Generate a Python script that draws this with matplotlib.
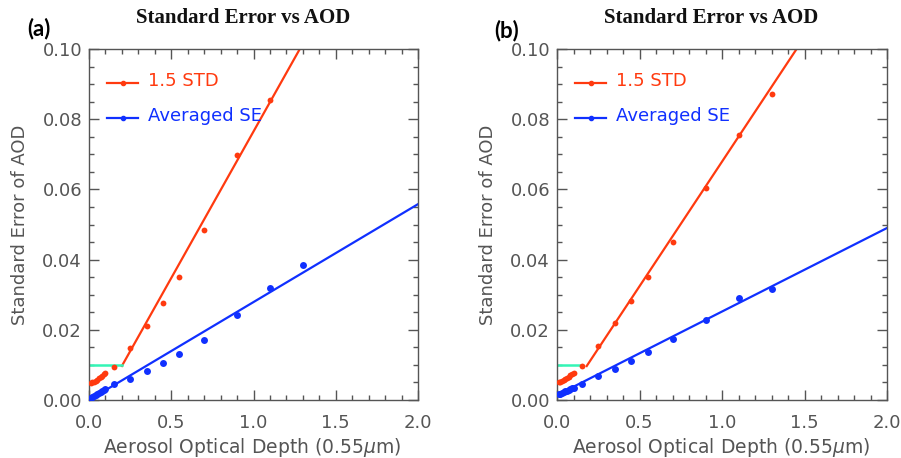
import matplotlib
matplotlib.use('Agg')
import matplotlib.pyplot as plt
import numpy as np
from matplotlib.ticker import MultipleLocator

plt.rcParams['font.family'] = ['DejaVu Sans']
plt.rcParams['mathtext.fontset'] = 'dejavusans'

RED = '#ff3a0f'
BLUE = '#1030ff'
CYAN = '#33f5b5'
GRAY = '#555555'

# AOD bins (x)
aod = [0.01, 0.02, 0.03, 0.04, 0.05, 0.06, 0.07, 0.08, 0.09, 0.10,
       0.15, 0.25, 0.35, 0.45, 0.55, 0.70, 0.90, 1.10, 1.30]

# panel (a)
std_a = [0.0048, 0.0050, 0.0052, 0.0055, 0.0058, 0.0062, 0.0066, 0.0069, 0.0073, 0.0077,
         0.0094, 0.0147, 0.0210, 0.0275, 0.0351, 0.0484, 0.0697, 0.0854, 0.1050]
se_a = [0.0006, 0.0009, 0.0012, 0.0015, 0.0018, 0.0020, 0.0023, 0.0025, 0.0028, 0.0031,
        0.0045, 0.0061, 0.0082, 0.0106, 0.0130, 0.0170, 0.0243, 0.0319, 0.0386]

# panel (b)
std_b = [0.0050, 0.0052, 0.0054, 0.0057, 0.0060, 0.0063, 0.0066, 0.0070, 0.0074, 0.0078,
         0.0097, 0.0155, 0.0220, 0.0283, 0.0350, 0.0449, 0.0605, 0.0756, 0.0872]
se_b = [0.0016, 0.0018, 0.0020, 0.0022, 0.0025, 0.0027, 0.0029, 0.0031, 0.0033, 0.0035,
        0.0045, 0.0067, 0.0089, 0.0110, 0.0136, 0.0173, 0.0227, 0.0290, 0.0317]

# fitted lines: (slope, intercept, x start)
red_fit_a = (0.0835, -0.0070, 0.20)
blue_fit_a = (0.0279, 0.0, 0.0)
red_fit_b = (0.0710, -0.0031, 0.18)
blue_fit_b = (0.0238, 0.0014, 0.0)

# threshold line (level, x end)
thr_a = (0.010, 0.20)
thr_b = (0.010, 0.15)

fig = plt.figure(figsize=(9.01, 4.58), dpi=100)

panels = [
    dict(rect=[89 / 901, 58 / 458, 329 / 901, 351 / 458], std=std_a, se=se_a,
         rfit=red_fit_a, bfit=blue_fit_a, thr=thr_a, tag='(a)', tagx=39, tagy=29, titlex=243),
    dict(rect=[557 / 901, 58 / 458, 330 / 901, 351 / 458], std=std_b, se=se_b,
         rfit=red_fit_b, bfit=blue_fit_b, thr=thr_b, tag='(b)', tagx=507, tagy=31, titlex=711),
]

for p in panels:
    ax = fig.add_axes(p['rect'])

    # fits
    s, c, x0 = p['rfit']
    xf = np.array([x0, 2.0])
    ax.plot(xf, s * xf + c, color=RED, lw=1.6, zorder=2)
    s, c, x0 = p['bfit']
    xf = np.array([x0, 2.0])
    ax.plot(xf, s * xf + c, color=BLUE, lw=1.6, zorder=2)

    # threshold
    lvl, xe = p['thr']
    ax.plot([0, xe], [lvl, lvl], color=CYAN, lw=1.8, zorder=2)

    # points
    ax.plot(aod, p['std'], 'o', color=RED, ms=4.2, mec='none', zorder=3)
    ax.plot(aod, p['se'], 'o', color=BLUE, ms=5, mec='none', zorder=3)

    # legend drawn by hand
    for yy, col, lab in [(0.903, RED, '1.5 STD'), (0.803, BLUE, 'Averaged SE')]:
        ax.plot([0.055, 0.149], [yy, yy], color=col, lw=1.6, transform=ax.transAxes)
        ax.plot([0.102], [yy], 'o', color=col, ms=3, transform=ax.transAxes)
        ax.text(0.179, yy + 0.005, lab, color=col, fontsize=13, va='center', ha='left',
                transform=ax.transAxes)

    ax.set_xlim(0, 2.0)
    ax.set_ylim(0, 0.1)
    ax.xaxis.set_major_locator(MultipleLocator(0.5))
    ax.xaxis.set_minor_locator(MultipleLocator(0.1))
    ax.yaxis.set_major_locator(MultipleLocator(0.02))
    ax.yaxis.set_minor_locator(MultipleLocator(0.005))
    ax.xaxis.set_major_formatter(plt.FuncFormatter(lambda v, pos: '%.1f' % v))
    ax.yaxis.set_major_formatter(plt.FuncFormatter(lambda v, pos: '%.2f' % v))
    ax.tick_params(which='both', direction='in', top=True, right=True, color=GRAY,
                   labelcolor=GRAY, labelsize=13)
    ax.tick_params(which='major', length=7, width=1)
    ax.tick_params(which='minor', length=3.5, width=1)
    ax.tick_params(axis='x', pad=10)
    ax.tick_params(axis='y', pad=5)
    for sp in ax.spines.values():
        sp.set_color(GRAY)
        sp.set_linewidth(1)

    ax.set_xlabel('Aerosol Optical Depth (0.55$\\mu$m)', fontsize=13.5, color=GRAY)
    ax.xaxis.label.set_va('center')
    ax.xaxis.set_label_coords(0.497, -0.134)
    ax.set_ylabel('Standard Error of AOD', fontsize=13, color=GRAY)
    ax.yaxis.label.set_va('center')
    ax.yaxis.label.set_ha('center')
    ax.yaxis.set_label_coords(-69 / 329, 0.5)

    fig.text(p['titlex'] / 901, 1 - 18 / 458, 'Standard Error vs AOD', family='Liberation Serif',
             weight='bold', fontsize=15, ha='center', va='center', color='#111111')
    fig.text(p['tagx'] / 901, 1 - p['tagy'] / 458, p['tag'], family='Lato', weight='bold',
             fontsize=16, ha='center', va='center', color='black')

fig.savefig('out.png', dpi=100)
